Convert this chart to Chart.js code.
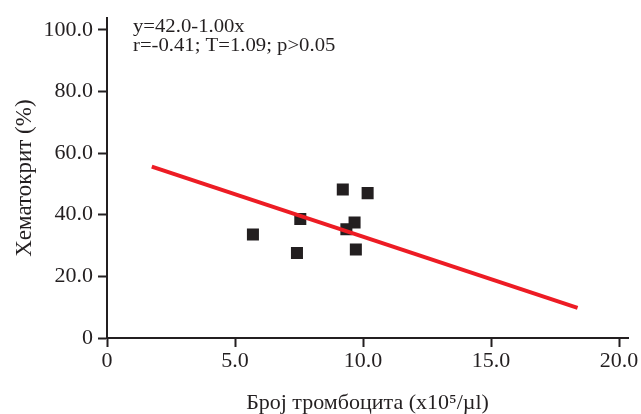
<!DOCTYPE html>
<html>
<head>
<meta charset="utf-8">
<script src="https://cdn.jsdelivr.net/npm/chart.js@4/dist/chart.umd.min.js"></script>
<style>
html,body{margin:0;padding:0;background:#fff;}
#wrap{width:641px;height:414px;}
</style>
</head>
<body>
<div id="wrap"><canvas id="c" width="641" height="414"></canvas></div>
<script>
// platelet count (x10^5/ul) vs hematocrit (%)
const plateletX = [5.70, 7.55, 7.42, 9.21, 10.18, 9.67, 9.35, 9.72];
const hematocritY = [33.6, 38.6, 27.6, 48.2, 47.0, 37.5, 35.3, 28.7];
// fitted line as drawn (two end points)
const fitX = [1.75, 18.38];
const fitY = [55.6, 9.8];
const xTicks = [0, 5, 10, 15, 20];
const yTicks = [0, 20, 40, 60, 80, 100];
const noteLines = ['y=42.0-1.00x', 'r=-0.41; T=1.09; p>0.05'];

const INK = '#231f20';
const FONT = '"Liberation Serif", "Times New Roman", serif';

const toPts = (xs, ys) => xs.map((x, i) => ({x: x, y: ys[i]}));
const fmt = v => v === 0 ? '0' : v.toFixed(1);

// regression note, slightly wide like the source figure
const notePlugin = {
  id: 'note',
  afterDraw(chart) {
    const ctx = chart.ctx;
    const x0 = chart.chartArea.left + 26;
    ctx.save();
    ctx.fillStyle = INK;
    ctx.font = '18px ' + FONT;
    ctx.textBaseline = 'alphabetic';
    ctx.translate(x0, 0);
    ctx.scale(1.15, 1);
    noteLines.forEach((t, i) => ctx.fillText(t, 0, 32 + i * 19));
    ctx.restore();
  }
};

new Chart(document.getElementById('c'), {
  type: 'scatter',
  data: {
    datasets: [
      {type: 'line', data: toPts(fitX, fitY), borderColor: '#ed1c24', borderWidth: 4,
       pointRadius: 0, fill: false, order: 0},
      {data: toPts(plateletX, hematocritY), backgroundColor: INK, borderWidth: 0,
       pointStyle: 'rect', pointRadius: 8.5, order: 1}
    ]
  },
  options: {
    responsive: false,
    animation: false,
    events: [],
    layout: {padding: {top: 15, right: 13, left: 0, bottom: 0}},
    plugins: {legend: {display: false}, tooltip: {enabled: false}},
    scales: {
      x: {
        type: 'linear', min: 0, max: 20.35,
        afterBuildTicks: s => { s.ticks = xTicks.map(v => ({value: v})); },
        afterFit: s => { s.height = 76; },
        border: {color: INK, width: 2},
        grid: {drawOnChartArea: false, tickLength: 9, tickColor: INK, tickWidth: 2},
        ticks: {color: INK, padding: 1, font: {family: FONT, size: 22}, callback: fmt, maxRotation: 0},
        title: {display: true, text: 'Број тромбоцита (x10⁵/µl)', color: INK,
                font: {family: FONT, size: 22, lineHeight: 1}, padding: {top: 0, bottom: 0}}
      },
      y: {
        min: 0, max: 103.75,
        afterBuildTicks: s => { s.ticks = yTicks.map(v => ({value: v})); },
        afterFit: s => { s.width = 107; },
        border: {color: INK, width: 2},
        grid: {drawOnChartArea: false, tickLength: 9, tickColor: INK, tickWidth: 2},
        ticks: {color: INK, padding: 5, font: {family: FONT, size: 22}, callback: fmt},
        title: {display: true, text: 'Хематокрит (%)', color: INK,
                font: {family: FONT, size: 23, lineHeight: 1}, padding: {top: 13, bottom: 0}}
      }
    }
  },
  plugins: [notePlugin]
});
</script>
</body>
</html>
